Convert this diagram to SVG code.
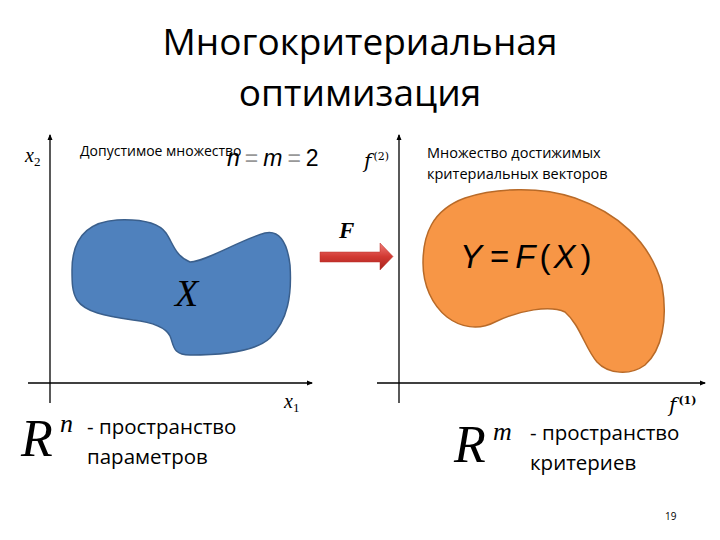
<svg xmlns="http://www.w3.org/2000/svg" width="720" height="540" viewBox="0 0 720 540">
<defs>
<style>
.t{font-family:"Open Sans","Liberation Sans",sans-serif;fill:#000}
.m{font-family:"Liberation Serif","DejaVu Serif",serif;font-style:italic;fill:#000}
.ax{stroke:#000;stroke-width:1.3;fill:none}
</style>
<marker id="ah" markerWidth="6" markerHeight="6" refX="5" refY="3" orient="auto" markerUnits="userSpaceOnUse">
<path d="M0,0.5 L6,3 L0,5.5 Z" fill="#000"/>
</marker>
<linearGradient id="rg" x1="0" y1="0" x2="0" y2="1">
<stop offset="0" stop-color="#f07c78"/>
<stop offset="0.5" stop-color="#d23a33"/>
<stop offset="1" stop-color="#a8221c"/>
</linearGradient>
</defs>
<rect width="720" height="540" fill="#fff"/>
<g id="title">
<text class="t" x="360" y="55" font-size="37" text-anchor="middle">Многокритериальная</text>
<text class="t" x="360" y="106" font-size="37" text-anchor="middle">оптимизация</text>
</g>
<g id="connectors">
<line class="ax" x1="50" y1="403" x2="50" y2="135" marker-end="url(#ah)"/>
<line class="ax" x1="28" y1="383" x2="312" y2="383" marker-end="url(#ah)"/>
<line class="ax" x1="399" y1="403" x2="399" y2="135" marker-end="url(#ah)"/>
<line class="ax" x1="377" y1="383" x2="705" y2="383" marker-end="url(#ah)"/>
<g id="arrowF">
<path d="M320,252 L380,252 L380,243 L393,256.5 L380,270 L380,262 L320,262 Z" fill="url(#rg)" stroke="#b83028" stroke-width="0.5"/>
<text x="339" y="238" font-family="Liberation Serif,serif" font-style="italic" font-weight="bold" font-size="23">F</text>
</g>
</g>
<g id="setX">
<path d="M72,270 C72,238 88,222 117,220 C140,219 158,222 166,233 C173,243 175,256 190,262 C205,262 240,240 265,233 C278,230 287,240 290,265 C292,295 288,320 270,338 C255,352 220,355 190,355 C172,355 174,345 170,336 C165,326 150,322 133,320 C105,316 85,312 77,300 C72,292 72,282 72,270 Z" fill="#4f81bd" stroke="#3a5f8c" stroke-width="1.5"/>
<text class="m" x="175" y="306" font-size="38">X</text>
</g>
<g id="setY">
<path d="M423,263 C423,235 432,210 465,198 C495,188 540,186 575,198 C615,212 650,240 662,285 C668,320 662,350 645,365 C630,376 608,374 597,362 C585,348 580,325 565,312 C550,305 520,310 495,322 C478,331 460,327 447,317 C432,305 423,285 423,263 Z" fill="#f79646" stroke="#b86a28" stroke-width="1.5"/>
<text x="460" y="268" font-family="Liberation Sans,sans-serif" font-size="33"><tspan font-style="italic">Y</tspan><tspan dx="8">=</tspan><tspan dx="6" font-style="italic">F</tspan><tspan dx="4">(</tspan><tspan font-style="italic" dx="3">X</tspan><tspan dx="5">)</tspan></text>
</g>
<g id="labels">
<text class="t" x="80" y="156" font-size="14">Допустимое множество</text>
<text x="227" y="166" font-family="Liberation Sans,sans-serif" font-size="23"><tspan font-style="italic">n</tspan><tspan fill="#999" dx="5">=</tspan><tspan font-style="italic" dx="5">m</tspan><tspan fill="#999" dx="5">=</tspan><tspan dx="5">2</tspan></text>
<text class="m" x="25" y="162" font-size="20">x<tspan font-size="13" font-style="normal" dy="4">2</tspan></text>
<text class="m" x="284" y="408" font-size="20">x<tspan font-size="13" font-style="normal" dy="4">1</tspan></text>
<text x="364" y="168" font-family="DejaVu Serif,serif" font-style="italic" font-size="20">f<tspan font-size="11" font-style="normal" dy="-8" dx="2">(2)</tspan></text>
<text x="669" y="412" font-family="DejaVu Serif,serif" font-style="italic" font-size="20">f<tspan font-size="11" font-style="normal" font-weight="bold" dy="-8" dx="2">(1)</tspan></text>
<text class="t" x="427" y="158" font-size="14.5">Множество достижимых</text>
<text class="t" x="427" y="179" font-size="14.5">критериальных векторов</text>
<text class="m" x="21" y="456" font-size="52">R</text>
<text class="m" x="60" y="432" font-size="26">n</text>
<text class="t" x="87" y="434" font-size="20.5">- пространство</text>
<text class="t" x="87" y="464" font-size="20.5">параметров</text>
<text class="m" x="454" y="462" font-size="52">R</text>
<text class="m" x="493" y="440" font-size="26">m</text>
<text class="t" x="530" y="440" font-size="20.5">- пространство</text>
<text class="t" x="530" y="470" font-size="20.5">критериев</text>
<text class="t" x="665" y="520" font-size="10" fill="#888">19</text>
</g>
</svg>
